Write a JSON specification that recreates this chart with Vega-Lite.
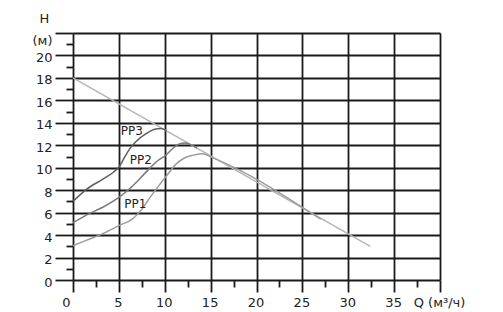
{
  "$schema": "https://vega.github.io/schema/vega-lite/v6.json",
  "width": 367,
  "height": 247,
  "autosize": "none",
  "padding": {"left": 73, "top": 33, "right": 63, "bottom": 32},
  "background": "white",
  "config": {"view": {"stroke": null}},
  "data": {
    "values": [
      {"s": "max", "Q": 0, "H": 18},
      {"s": "max", "Q": 32.4, "H": 3.0},
      {"s": "PP3", "Q": 0, "H": 7.0},
      {"s": "PP3", "Q": 1.5, "H": 8.1},
      {"s": "PP3", "Q": 3.3, "H": 9.0},
      {"s": "PP3", "Q": 4.4, "H": 9.6},
      {"s": "PP3", "Q": 5.0, "H": 10.05},
      {"s": "PP3", "Q": 5.6, "H": 10.9},
      {"s": "PP3", "Q": 6.2, "H": 11.7},
      {"s": "PP3", "Q": 6.9, "H": 12.35},
      {"s": "PP3", "Q": 8.0, "H": 13.05},
      {"s": "PP3", "Q": 9.0, "H": 13.45},
      {"s": "PP3", "Q": 9.6, "H": 13.5},
      {"s": "PP3", "Q": 10.2, "H": 13.28},
      {"s": "PP2", "Q": 0, "H": 5.1},
      {"s": "PP2", "Q": 1.5, "H": 5.8},
      {"s": "PP2", "Q": 3.3, "H": 6.5},
      {"s": "PP2", "Q": 5.0, "H": 7.35},
      {"s": "PP2", "Q": 6.2, "H": 8.15},
      {"s": "PP2", "Q": 7.25, "H": 9.0},
      {"s": "PP2", "Q": 8.3, "H": 9.9},
      {"s": "PP2", "Q": 9.2, "H": 10.6},
      {"s": "PP2", "Q": 10.1, "H": 11.1},
      {"s": "PP2", "Q": 11.0, "H": 11.8},
      {"s": "PP2", "Q": 11.6, "H": 12.12},
      {"s": "PP2", "Q": 12.2, "H": 12.2},
      {"s": "PP2", "Q": 12.9, "H": 12.03},
      {"s": "PP2", "Q": 13.5, "H": 11.75},
      {"s": "PP1", "Q": 0, "H": 3.05},
      {"s": "PP1", "Q": 1.5, "H": 3.55},
      {"s": "PP1", "Q": 3.3, "H": 4.15},
      {"s": "PP1", "Q": 5.0, "H": 4.85},
      {"s": "PP1", "Q": 6.5, "H": 5.45},
      {"s": "PP1", "Q": 7.4, "H": 6.2},
      {"s": "PP1", "Q": 8.3, "H": 7.25},
      {"s": "PP1", "Q": 9.4, "H": 8.45},
      {"s": "PP1", "Q": 10.5, "H": 9.6},
      {"s": "PP1", "Q": 11.2, "H": 10.3},
      {"s": "PP1", "Q": 12.0, "H": 10.8},
      {"s": "PP1", "Q": 13.0, "H": 11.1},
      {"s": "PP1", "Q": 14.1, "H": 11.25},
      {"s": "PP1", "Q": 15.2, "H": 10.9},
      {"s": "PP1", "Q": 27.0, "H": 5.42},
      {"s": "label", "Q": 6.4, "H": 13.3, "lab": "PP3"},
      {"s": "label", "Q": 7.4, "H": 10.7, "lab": "PP2"},
      {"s": "label", "Q": 6.8, "H": 6.73, "lab": "PP1"}
    ]
  },
  "encoding": {
    "x": {
      "field": "Q",
      "type": "quantitative",
      "scale": {"domain": [0, 40], "nice": false, "zero": false},
      "axis": {
        "values": [0, 2.5, 5, 7.5, 10, 12.5, 15, 17.5, 20, 22.5, 25, 27.5, 30, 32.5, 35, 37.5, 40],
        "title": null,
        "domain": false,
        "labelExpr": "datum.value == 40 ? 'Q (м³/ч)' : (datum.value % 5 == 0 ? datum.label : '')",
        "labelFont": "DejaVu Sans",
        "labelFontSize": 13,
        "labelColor": "#222222",
        "labelPadding": 4,
        "labelFlush": false,
        "labelOverlap": false,
        "labelOffset": {"condition": {"test": "datum.value == 0", "value": -7}, "value": -1},
        "tickSize": {"condition": {"test": "datum.value % 5 != 0", "value": 7}, "value": 12},
        "tickColor": "#1a1a1a",
        "tickWidth": 1.8,
        "grid": true,
        "gridColor": "#1a1a1a",
        "gridWidth": 1.8,
        "gridOpacity": {"condition": {"test": "datum.value % 5 != 0", "value": 0}, "value": 1}
      }
    },
    "y": {
      "field": "H",
      "type": "quantitative",
      "scale": {"domain": [0, 22], "nice": false, "zero": false},
      "axis": {
        "values": [0, 1, 2, 3, 4, 5, 6, 7, 8, 9, 10, 11, 12, 13, 14, 15, 16, 17, 18, 19, 20, 21, 22],
        "title": "H",
        "titleAngle": 0,
        "titleX": -29,
        "titleY": -15,
        "titleAlign": "center",
        "titleBaseline": "middle",
        "titleFont": "DejaVu Sans",
        "titleFontSize": 13,
        "titleFontWeight": "normal",
        "titleColor": "#222222",
        "domain": false,
        "labelExpr": "datum.value == 22 ? '(м)' : (datum.value % 2 == 0 ? datum.label : '')",
        "labelFont": "DejaVu Sans",
        "labelFontSize": 13,
        "labelColor": "#222222",
        "labelPadding": 3,
        "labelFlush": false,
        "labelOverlap": false,
        "labelOffset": {"condition": {"test": "datum.value == 22", "value": 7}, "value": 2},
        "tickSize": {"condition": {"test": "datum.value % 2 != 0", "value": 7}, "value": 18},
        "tickColor": "#1a1a1a",
        "tickWidth": 1.8,
        "grid": true,
        "gridColor": "#1a1a1a",
        "gridWidth": 1.8,
        "gridOpacity": {"condition": {"test": "datum.value % 2 != 0", "value": 0}, "value": 1}
      }
    }
  },
  "layer": [
    {
      "transform": [{"filter": "datum.s != 'label'"}],
      "mark": {"type": "line", "strokeWidth": 1.5, "interpolate": "monotone", "clip": false},
      "encoding": {
        "color": {
          "field": "s",
          "type": "nominal",
          "scale": {"domain": ["max", "PP1", "PP2", "PP3"], "range": ["#b5b5b5", "#9c9c9c", "#7a7a7a", "#5e5e5e"]},
          "legend": null
        },
        "detail": {"field": "s"}
      }
    },
    {
      "transform": [{"filter": "datum.s == 'label'"}],
      "mark": {"type": "text", "font": "DejaVu Sans", "fontSize": 12, "color": "#222222", "align": "center", "baseline": "middle"},
      "encoding": {"text": {"field": "lab"}}
    }
  ]
}
